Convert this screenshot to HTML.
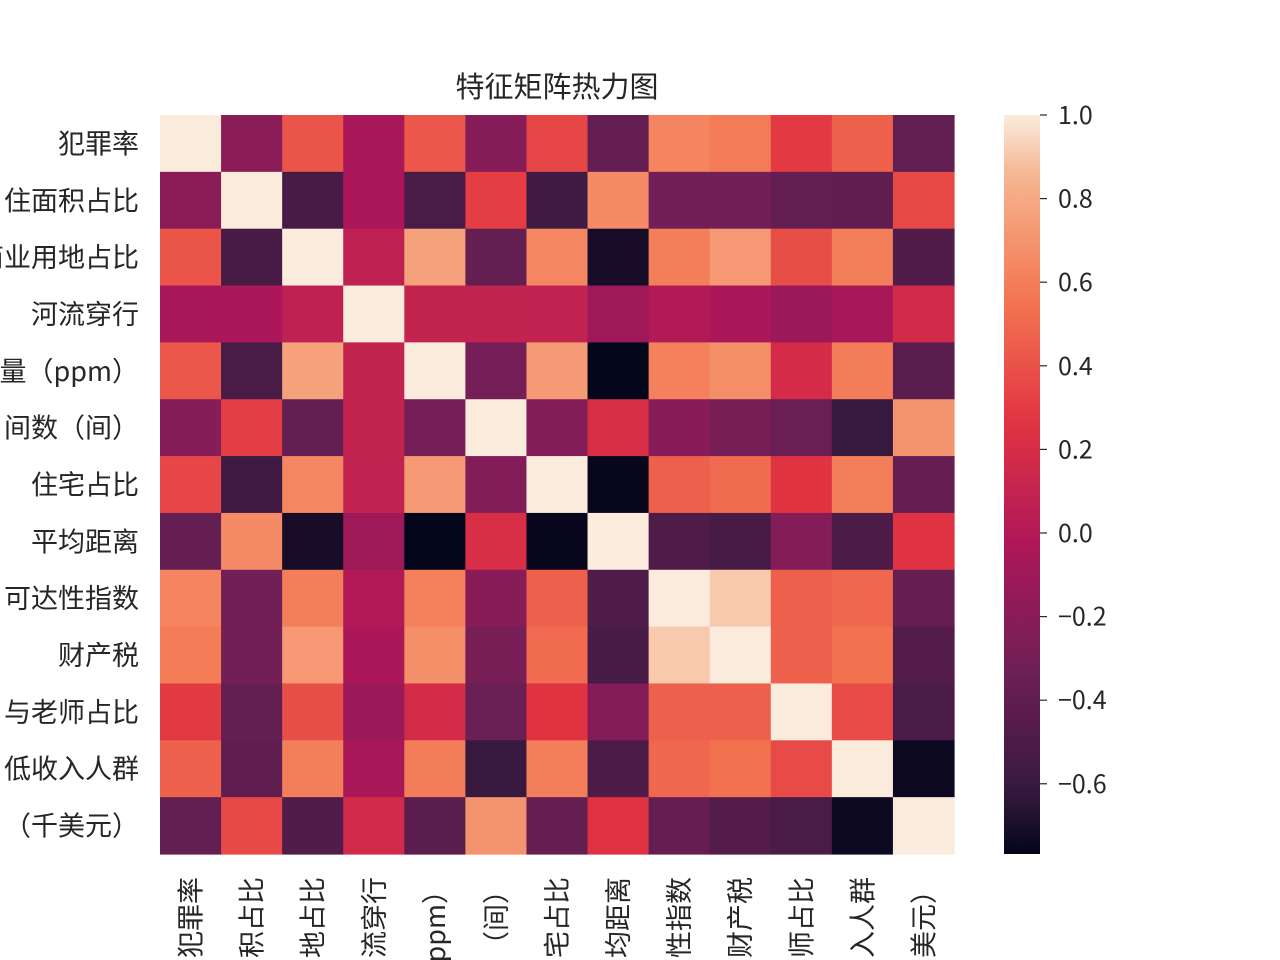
<!DOCTYPE html>
<html><head><meta charset="utf-8"><style>
body{margin:0;background:#fff;width:1280px;height:960px;overflow:hidden}
svg{display:block;overflow:hidden}
text{font-family:"WenQuanYi Zen Hei","Noto Sans CJK SC",sans-serif;fill:#262626}
</style></head><body>
<svg id="chart" width="1280" height="960"></svg>
<script>
const labelsY=["犯罪率","住面积占比","商业用地占比","河流穿行","含量（ppm）","间数（间）","住宅占比","平均距离","可达性指数","财产税","与老师占比","低收入人群","（千美元）"];
const labelsX=["犯罪率","积占比","地占比","流穿行","（ppm）","（间）","宅占比","均距离","性指数","财产税","师占比","入人群","美元）"];
const values=[
[1,-0.20,0.41,-0.056,0.42,-0.22,0.35,-0.38,0.63,0.58,0.29,0.46,-0.39],
[-0.20,1,-0.53,-0.043,-0.52,0.31,-0.57,0.66,-0.31,-0.31,-0.39,-0.41,0.36],
[0.41,-0.53,1,0.063,0.76,-0.39,0.64,-0.71,0.60,0.72,0.38,0.60,-0.48],
[-0.056,-0.043,0.063,1,0.091,0.091,0.087,-0.099,-0.0074,-0.036,-0.12,-0.054,0.18],
[0.42,-0.52,0.76,0.091,1,-0.30,0.73,-0.77,0.61,0.67,0.19,0.59,-0.43],
[-0.22,0.31,-0.39,0.091,-0.30,1,-0.24,0.21,-0.21,-0.29,-0.36,-0.61,0.70],
[0.35,-0.57,0.64,0.087,0.73,-0.24,1,-0.75,0.46,0.51,0.26,0.60,-0.38],
[-0.38,0.66,-0.71,-0.099,-0.77,0.21,-0.75,1,-0.49,-0.53,-0.23,-0.50,0.25],
[0.63,-0.31,0.60,-0.0074,0.61,-0.21,0.46,-0.49,1,0.91,0.46,0.49,-0.38],
[0.58,-0.31,0.72,-0.036,0.67,-0.29,0.51,-0.53,0.91,1,0.46,0.54,-0.47],
[0.29,-0.39,0.38,-0.12,0.19,-0.36,0.26,-0.23,0.46,0.46,1,0.37,-0.51],
[0.46,-0.41,0.60,-0.054,0.59,-0.61,0.60,-0.50,0.49,0.54,0.37,1,-0.74],
[-0.39,0.36,-0.48,0.18,-0.43,0.70,-0.38,0.25,-0.38,-0.47,-0.51,-0.74,1]];
const cbTicks=[1.0,0.8,0.6,0.4,0.2,0.0,-0.2,-0.4,-0.6];
const vmin=-0.768, vmax=1.0;
const stops=[[0,"#03051a"],[1/12,"#35193e"],[3/12,"#701f57"],[5/12,"#ad1759"],[7/12,"#e13342"],[9/12,"#f37651"],[11/12,"#f6b48f"],[1,"#faebdd"]];
function hex(h){return [1,3,5].map(i=>parseInt(h.substr(i,2),16));}
function cmap(v){let t=Math.max(0,Math.min(1,(v-vmin)/(vmax-vmin)));
 for(let i=1;i<stops.length;i++){if(t<=stops[i][0]){const a=hex(stops[i-1][1]),b=hex(stops[i][1]);const f=(t-stops[i-1][0])/(stops[i][0]-stops[i-1][0]);return "rgb("+a.map((c,k)=>Math.round(c+(b[k]-c)*f)).join(",")+")";}}
 return stops[stops.length-1][1];}
const NS="http://www.w3.org/2000/svg",svg=document.getElementById("chart");
function el(t,a,txt){const e=document.createElementNS(NS,t);for(const k in a)e.setAttribute(k,a[k]);if(txt!=null)e.textContent=txt;svg.appendChild(e);return e;}
const X0=160,X1=954,Y0=115,Y1=854,n=labelsY.length,cw=(X1-X0)/n,ch=(Y1-Y0)/n;
const xs=i=>X0+i*cw, ys=j=>Y0+j*ch;
const t=el("text",{x:557,y:97,"text-anchor":"middle","font-size":"29"},"特征矩阵热力图");


values.forEach((row,j)=>row.forEach((v,i)=>{
 const r=el("rect",{x:xs(i),y:ys(j),width:cw+0.6,height:ch+0.6,fill:cmap(v)});
 
 
}));
labelsY.forEach((l,j)=>{
 const e=el("text",{x:139,y:ys(j)+ch/2+10,"text-anchor":"end","font-size":"27"},l);
 
 
});
labelsX.forEach((l,i)=>{
 const cx=xs(i)+cw/2+10;
 const e=el("text",{x:cx,y:877,"text-anchor":"end","font-size":"27",transform:"rotate(-90 "+cx+" 877)"},l);
 
 
});
const CB0=1004,CB1=1040;
const defs=el("defs",{});
const g=document.createElementNS(NS,"linearGradient");g.setAttribute("id","cbg");g.setAttribute("x1","0");g.setAttribute("y1","1");g.setAttribute("x2","0");g.setAttribute("y2","0");
for(let k=0;k<=40;k++){const s=document.createElementNS(NS,"stop");s.setAttribute("offset",k/40);s.setAttribute("stop-color",cmap(vmin+(vmax-vmin)*k/40));g.appendChild(s);}
defs.appendChild(g);
const cb=el("rect",{x:CB0,y:Y0,width:CB1-CB0,height:Y1-Y0,fill:"url(#cbg)"});


const cy=v=>Y1-(v-vmin)/(vmax-vmin)*(Y1-Y0);
cbTicks.forEach(v=>{
 const y=cy(v);
 const tk=el("line",{x1:CB1,x2:CB1+7,y1:y,y2:y,stroke:"#262626","stroke-width":1.2});
 
 
 const lb=el("text",{x:1058,y:y+9,"font-size":"25"},(v<0?"−":"")+Math.abs(v).toFixed(1));
 
 
});
</script>
</body></html>
